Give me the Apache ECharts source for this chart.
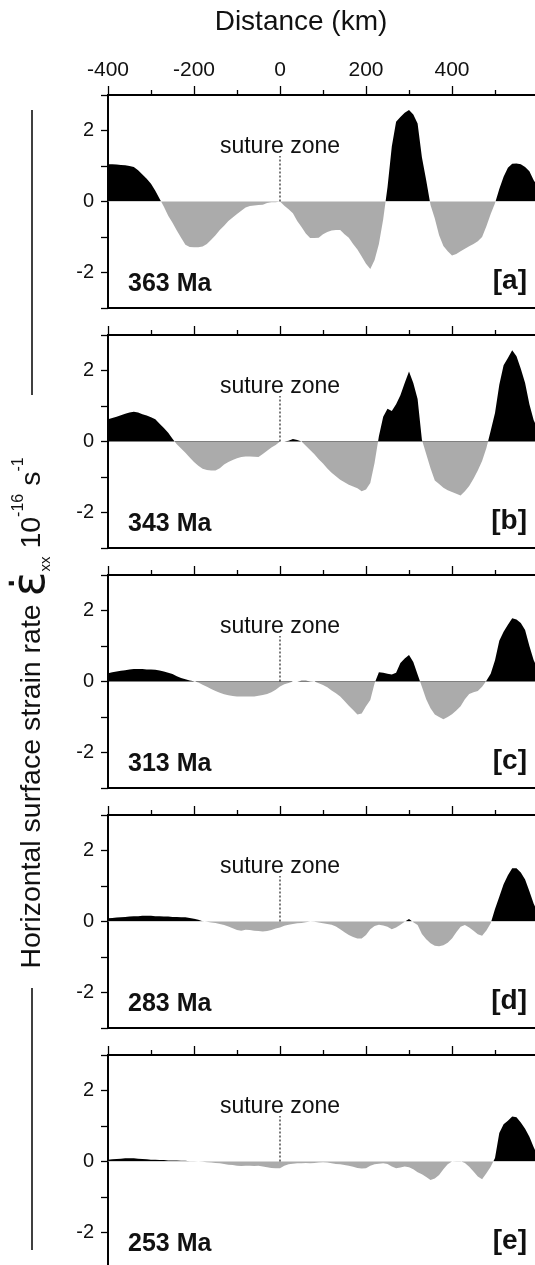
<!DOCTYPE html>
<html><head><meta charset="utf-8">
<script src="https://cdn.jsdelivr.net/npm/echarts@6/dist/echarts.min.js"></script>
<style>html,body{margin:0;padding:0;background:#fff;overflow:hidden}#c{width:535px;height:1265px}</style>
</head><body><div id="c"></div>
<script>
// Distance along profile (km)
const distance = [
-400,-390,-380,-370,-360,-350,-340,-330,-320,-310,
-300,-290,-280,-270,-260,-250,-240,-230,-220,-210,
-200,-190,-180,-170,-160,-150,-140,-130,-120,-110,
-100,-90,-80,-70,-60,-50,-40,-30,-20,-10,
0,10,20,30,40,50,60,70,80,90,
100,110,120,130,140,150,160,170,180,190,
200,210,220,230,240,250,260,270,280,290,
300,310,320,330,340,350,360,370,380,390,
400,410,420,430,440,450,460,470,480,490,
500,510,520,530,540,550,560,570,580,590,
600];
// Horizontal surface strain rate (1e-16 s^-1)
const strain363 = [
1.05,1.05,1.04,1.03,1.02,1.0,0.97,0.88,0.76,0.64,
0.5,0.3,0.08,-0.15,-0.4,-0.6,-0.82,-1.02,-1.22,-1.28,
-1.29,-1.29,-1.27,-1.2,-1.08,-0.95,-0.8,-0.68,-0.55,-0.45,
-0.35,-0.26,-0.17,-0.13,-0.11,-0.1,-0.09,-0.04,-0.02,-0.02,
0,-0.12,-0.22,-0.33,-0.55,-0.72,-0.9,-1.03,-1.03,-1.02,
-0.92,-0.86,-0.82,-0.8,-0.8,-0.92,-1.02,-1.2,-1.35,-1.55,
-1.75,-1.9,-1.65,-1.2,-0.5,0.4,1.55,2.25,2.38,2.5,
2.58,2.45,2.2,1.25,0.6,-0.1,-0.48,-0.95,-1.25,-1.4,
-1.52,-1.48,-1.4,-1.33,-1.26,-1.2,-1.12,-1.0,-0.7,-0.35,
-0.05,0.35,0.7,0.95,1.06,1.07,1.05,0.97,0.85,0.6,
0.4];
const strain343 = [
0.63,0.66,0.7,0.74,0.78,0.82,0.84,0.82,0.77,0.73,
0.68,0.63,0.5,0.38,0.25,0.08,-0.08,-0.2,-0.32,-0.45,
-0.58,-0.68,-0.77,-0.8,-0.82,-0.82,-0.75,-0.65,-0.58,-0.52,
-0.47,-0.44,-0.42,-0.42,-0.43,-0.44,-0.35,-0.26,-0.17,-0.1,
0,0,0.02,0.07,0.04,0,-0.12,-0.24,-0.36,-0.5,
-0.62,-0.76,-0.88,-0.98,-1.08,-1.15,-1.22,-1.27,-1.32,-1.4,
-1.35,-1.17,-0.6,0.15,0.7,0.92,0.86,1.05,1.3,1.65,
1.97,1.65,1.2,0.05,-0.35,-0.75,-1.1,-1.2,-1.3,-1.37,
-1.42,-1.47,-1.52,-1.4,-1.25,-1.05,-0.82,-0.55,-0.18,0.3,
0.8,1.6,2.15,2.35,2.57,2.4,2.05,1.65,1.05,0.6,
0.35];
const strain313 = [
0.23,0.26,0.28,0.3,0.32,0.34,0.35,0.35,0.35,0.34,
0.34,0.33,0.31,0.28,0.25,0.21,0.15,0.1,0.06,0.03,
0.01,-0.03,-0.09,-0.15,-0.21,-0.27,-0.32,-0.36,-0.39,-0.41,
-0.42,-0.42,-0.42,-0.42,-0.42,-0.4,-0.38,-0.35,-0.3,-0.23,
-0.14,-0.08,-0.04,0,0,0.02,0.02,0.01,0,-0.05,
-0.1,-0.16,-0.25,-0.33,-0.42,-0.55,-0.68,-0.8,-0.93,-0.9,
-0.7,-0.52,-0.05,0.26,0.25,0.22,0.2,0.25,0.52,0.65,
0.75,0.55,0.2,-0.15,-0.5,-0.75,-0.93,-1.0,-1.06,-1.0,
-0.92,-0.82,-0.7,-0.5,-0.35,-0.3,-0.27,-0.15,0.02,0.22,
0.6,1.15,1.4,1.6,1.78,1.75,1.65,1.45,1.0,0.6,
0.35];
const strain283 = [
0.09,0.1,0.11,0.12,0.13,0.14,0.15,0.15,0.16,0.16,
0.16,0.15,0.15,0.14,0.14,0.13,0.13,0.12,0.12,0.1,
0.08,0.05,0.01,-0.01,-0.03,-0.04,-0.07,-0.1,-0.14,-0.19,
-0.24,-0.26,-0.23,-0.24,-0.26,-0.27,-0.28,-0.27,-0.24,-0.2,
-0.17,-0.12,-0.09,-0.07,-0.05,-0.04,-0.02,0,-0.01,-0.03,
-0.05,-0.07,-0.09,-0.14,-0.22,-0.3,-0.38,-0.44,-0.48,-0.48,
-0.38,-0.22,-0.13,-0.09,-0.11,-0.15,-0.22,-0.17,-0.09,-0.01,
0.07,-0.02,-0.1,-0.35,-0.5,-0.61,-0.68,-0.7,-0.67,-0.6,
-0.48,-0.3,-0.15,-0.1,-0.17,-0.26,-0.36,-0.4,-0.25,-0.05,
0.35,0.7,1.05,1.3,1.5,1.5,1.38,1.18,0.85,0.5,
0.25];
const strain253 = [
0.05,0.06,0.07,0.08,0.09,0.09,0.09,0.08,0.07,0.06,
0.05,0.05,0.04,0.04,0.03,0.03,0.03,0.02,0.02,0.01,
0.01,0,-0.01,-0.02,-0.03,-0.04,-0.05,-0.07,-0.09,-0.1,
-0.12,-0.13,-0.12,-0.12,-0.13,-0.12,-0.14,-0.16,-0.18,-0.19,
-0.19,-0.12,-0.08,-0.06,-0.05,-0.05,-0.04,-0.05,-0.04,-0.03,
-0.02,-0.03,-0.05,-0.07,-0.08,-0.1,-0.12,-0.15,-0.18,-0.2,
-0.19,-0.12,-0.08,-0.06,-0.05,-0.07,-0.14,-0.19,-0.17,-0.14,
-0.16,-0.22,-0.3,-0.36,-0.44,-0.52,-0.48,-0.38,-0.22,-0.08,
0,0.01,0.01,-0.04,-0.15,-0.28,-0.42,-0.5,-0.33,-0.15,
0.1,0.8,1.05,1.15,1.27,1.25,1.1,0.92,0.7,0.4,
0.15];
const ages = ['363 Ma','343 Ma','313 Ma','283 Ma','253 Ma'];
const panelTags = ['[a]','[b]','[c]','[d]','[e]'];
const xTickLabels = [-400,-200,0,200,400];
const yTickLabels = [-2,0,2];
const sutureX = 0;
const sutureTop = 1.28;
const sutureLabelY = 1.55;

const FONT = '"Liberation Sans", Arial, Helvetica, sans-serif';
const POS_COLOR = '#000';
const NEG_COLOR = '#ababab';
const panels = [strain363, strain343, strain313, strain283, strain253];
const GRID_LEFT = 108, GRID_TOP0 = 95, GRID_STEP = 240, GRID_H = 213;

const grids = [], xAxes = [], yAxes = [], series = [], graphics = [];
panels.forEach((vals, i) => {
  const top = GRID_TOP0 + GRID_STEP * i;
  grids.push({left: GRID_LEFT, right: -3, top: top, height: GRID_H, show: true,
    outerBoundsMode: 'none', containLabel: false,
    borderColor: '#000', borderWidth: 1.8, backgroundColor: 'transparent'});
  xAxes.push({gridIndex: i, type: 'value', position: 'top', min: -400, max: 600, interval: 200,
    axisLine: {show: true, onZero: false, lineStyle: {color: '#000', width: 1.8}},
    axisTick: {show: true, inside: false, length: 9, lineStyle: {color: '#000', width: 1.3}},
    minorTick: {show: true, splitNumber: 2, length: 5, lineStyle: {color: '#000', width: 1.3}},
    splitLine: {show: false}, minorSplitLine: {show: false},
    axisLabel: {show: i === 0, margin: 14, fontSize: 21, color: '#111', fontFamily: FONT,
      formatter: v => xTickLabels.includes(v) ? String(v) : ''}
  });
  yAxes.push({gridIndex: i, type: 'value', min: -3, max: 3, interval: 1,
    axisLine: {show: true, onZero: false, lineStyle: {color: '#000', width: 1.8}},
    axisTick: {show: true, inside: false, length: 7, lineStyle: {color: '#000', width: 1.3}},
    splitLine: {show: false},
    axisLabel: {margin: 14, fontSize: 20, color: '#111', fontFamily: FONT,
      formatter: v => yTickLabels.includes(v) ? String(v) : ''}
  });
  series.push({type: 'line', xAxisIndex: i, yAxisIndex: i,
    data: distance.map((d, j) => [d, vals[j]]),
    showSymbol: false, symbol: 'none', silent: true,
    lineStyle: {width: 0}, areaStyle: {opacity: 1, color: NEG_COLOR}, z: 2});
  graphics.push({type: 'text', x: 128, y: top + 189,
    style: {text: ages[i], fontSize: 25, fontWeight: 'bold', fontFamily: FONT, fill: '#111',
      align: 'left', verticalAlign: 'middle'}});
  graphics.push({type: 'text', x: 527, y: top + 186,
    style: {text: panelTags[i], fontSize: 28, fontWeight: 'bold', fontFamily: FONT, fill: '#111',
      align: 'right', verticalAlign: 'middle'}});
});
panels.forEach((vals, i) => {
  series.push({type: 'line', xAxisIndex: i, yAxisIndex: i, silent: true,
    data: [[sutureX, 0], [sutureX, sutureTop]], showSymbol: false, symbol: 'none',
    lineStyle: {color: '#222', width: 1.2, type: [2, 2]}, z: 5});
  series.push({type: 'scatter', xAxisIndex: i, yAxisIndex: i, silent: true,
    data: [[sutureX, sutureLabelY]], symbolSize: 0, itemStyle: {opacity: 1},
    label: {show: true, position: 'inside', formatter: 'suture zone', fontSize: 23,
      color: '#111', fontFamily: FONT, opacity: 1}, z: 6});
});

graphics.push({type: 'text', x: 301, y: 22.5,
  style: {text: 'Distance (km)', fontSize: 28, fontFamily: FONT, fill: '#111',
    align: 'center', verticalAlign: 'middle'}});
graphics.push({type: 'text', x: 32, y: 713, rotation: Math.PI / 2,
  style: {
    text: '{a|Horizontal surface strain rate }{e|\u03B5\u0307}{s|xx}{a| 10}{p|-16}{a| s}{p|-1}',
    align: 'center', verticalAlign: 'middle', fill: '#111',
    rich: {
      a: {fontSize: 28.5, fontFamily: FONT, fill: '#111', lineHeight: 42},
      e: {fontSize: 46, fontFamily: '"DejaVu Sans", ' + FONT, fill: '#111', lineHeight: 42},
      s: {fontSize: 15, fontFamily: FONT, fill: '#111', verticalAlign: 'bottom', lineHeight: 42},
      p: {fontSize: 16, fontFamily: FONT, fill: '#111', verticalAlign: 'top', lineHeight: 42}
    }
  }});
graphics.push({type: 'line', shape: {x1: 32, y1: 110, x2: 32, y2: 395},
  style: {stroke: '#000', lineWidth: 1.5}});
graphics.push({type: 'line', shape: {x1: 32, y1: 988, x2: 32, y2: 1250},
  style: {stroke: '#000', lineWidth: 1.5}});

const chart = echarts.init(document.getElementById('c'), null, {renderer: 'canvas'});
chart.setOption({
  animation: false,
  backgroundColor: '#fff',
  grid: grids, xAxis: xAxes, yAxis: yAxes, series: series,
  graphic: graphics
});
// Colour the area black above zero and grey below, using the axis's own zero position
const recolor = panels.map((vals, i) => {
  const top = chart.convertToPixel({yAxisIndex: i}, 3);
  const zero = chart.convertToPixel({yAxisIndex: i}, 0);
  const bottom = chart.convertToPixel({yAxisIndex: i}, -3);
  const f = (zero - top) / (bottom - top);
  const grad = new echarts.graphic.LinearGradient(0, top, 0, bottom, [
    {offset: 0, color: POS_COLOR}, {offset: f, color: POS_COLOR},
    {offset: f, color: NEG_COLOR}, {offset: 1, color: NEG_COLOR}], true);
  return {areaStyle: {opacity: 1, color: grad}};
});
chart.setOption({series: recolor});
</script></body></html>
